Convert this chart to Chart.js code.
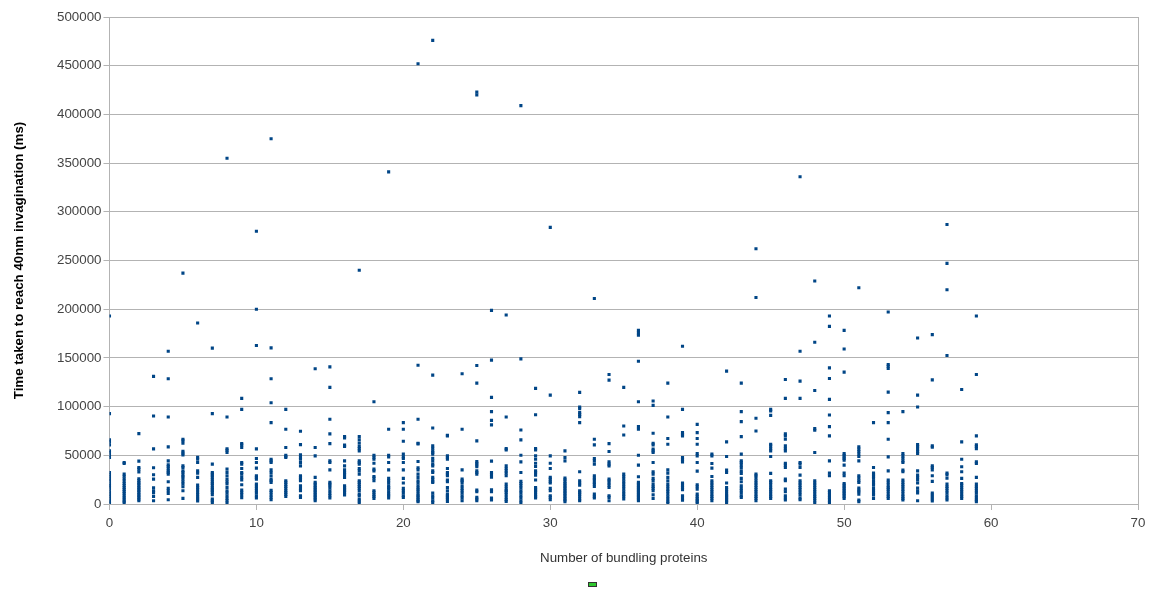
<!DOCTYPE html>
<html>
<head>
<meta charset="utf-8">
<script src="https://cdn.jsdelivr.net/npm/chart.js@4.4.1/dist/chart.umd.min.js"></script>
<style>
  html, body { margin: 0; padding: 0; background: #fff; }
  #wrap { position: relative; width: 1155px; height: 590px; }
  #legendKey {
    position: absolute; left: 588px; top: 582px; width: 7px; height: 3px;
    background: #2ec82e; border: 1px solid #333;
  }
</style>
</head>
<body>
<div id="wrap">
  <canvas id="chart" width="1155" height="590"></canvas>
  <div id="legendKey"></div>
</div>
<script>
// x: number of bundling proteins, one row of times (thousands of ms) per count
const counts = [];
for (let c = 0; c < 60; c++) counts.push(c);

const timesK = [
  [193, 92.8, 65.8, 63.8, 60.7, 54.6, 52.9, 50.1, 47.7, 32.4, 30, 28, 25.5, 23.9, 21, 19, 17.7, 15.3, 12.6, 10.2, 7.8, 5.1, 2.7, 1.2],
  [42.6, 41.6, 30.7, 28.5, 26, 23.5, 21, 19, 17, 15, 13, 11, 9, 7, 5, 3, 1.5],
  [72.3, 44, 37.5, 35.8, 33, 26, 24, 22, 20.5, 18.8, 17, 15.3, 13.6, 12, 10, 8.5, 6.8, 5, 3.4],
  [131, 90.4, 56.6, 37.2, 30, 25.6, 16.7, 13.6, 11.6, 7.8, 3.4],
  [156.9, 128.6, 89.3, 58.7, 44.3, 40.2, 38.5, 36.1, 34, 32.4, 30.7, 22.8, 16, 13.6, 10.9, 4.4],
  [237, 66.5, 65, 62.4, 54.2, 52.2, 50.5, 39.2, 37.5, 34, 32.4, 29.7, 28, 25.6, 22.8, 20.5, 17.7, 13.6, 5.8],
  [185.8, 48, 46, 42.6, 34, 31.7, 27.3, 19.4, 17, 14.7, 12, 9.5, 7.2, 5.1, 3.1],
  [160, 92.8, 40.9, 32.4, 30.7, 29, 26.9, 24.9, 22.8, 21.1, 19.4, 17, 15.3, 13.6, 12, 9.5, 5.1, 3.4, 1.7],
  [355, 89.3, 56.6, 55.2, 52.9, 35.8, 32.4, 29, 25.6, 22.8, 20.5, 17, 13.6, 11.3, 8.5, 5.8, 3.4, 1],
  [108.4, 97.2, 62, 60.7, 58, 42.6, 40.9, 36.5, 32.4, 30.7, 27.3, 24.6, 19.8, 14.3, 12, 9.5, 6.5],
  [280, 200, 162.7, 56.6, 46.7, 42.6, 36.8, 29, 27.3, 25.6, 20.5, 18.4, 16, 13.6, 11.3, 8.5, 6.1],
  [375, 160.3, 128.6, 104, 83.5, 46, 44.3, 42.6, 35.1, 32.4, 29, 25.6, 23.9, 22.2, 14, 12, 9.2, 6.8, 4.4],
  [97.2, 76.7, 58, 50.1, 48.8, 47.7, 23.9, 22.2, 20.1, 18, 16, 13.6, 12, 9.9, 7.8],
  [74.7, 61, 50.5, 47.7, 46, 42.6, 39.2, 29, 27.3, 25.6, 23.9, 18.8, 16, 13.6, 8.5, 6.8],
  [138.8, 58, 49.4, 27.3, 22.2, 20.5, 18.8, 17, 15.3, 13.6, 12, 10.2, 8.5, 6.8, 5.1, 3.4],
  [140.8, 119.7, 87, 72, 62, 44.3, 42.6, 35.1, 22.2, 20.5, 18.8, 16.4, 13.6, 10.9, 8.5, 6.1],
  [69.2, 67.9, 60.4, 59, 44.3, 39.2, 35.1, 32.4, 30, 27.3, 18.8, 17, 15.3, 13.6, 12, 9.2],
  [240, 69.2, 65.8, 62.4, 59, 56.9, 54.6, 44.3, 42.6, 40.9, 36.5, 34, 30.7, 23.9, 22.2, 20.1, 18, 16, 13.6, 10.2, 8.5, 5.1, 3.1, 1],
  [105, 50.1, 48, 46, 41.9, 35.8, 34, 28.3, 26.6, 23.9, 13.6, 12, 9.5, 7.8, 5.8],
  [341, 76.7, 50.1, 48.4, 42.6, 35.1, 26.3, 23.9, 21.5, 18.8, 17, 15.3, 12.6, 10.2, 8.5, 6.1],
  [83.5, 76.7, 64.4, 51.2, 48.4, 46.7, 42.6, 35.1, 26.3, 21.5, 16, 13.6, 11.3, 8.5, 6.8],
  [452, 142.5, 87, 62.4, 61.7, 43.6, 37.2, 35.1, 30.7, 27.3, 23.9, 21.5, 18.8, 16.4, 14.7, 12.6, 10.2, 8.5, 6.8, 5.1, 3.4, 2.4],
  [476, 132.3, 78.1, 59.7, 57.3, 54.6, 52.9, 51.2, 47, 44.3, 40.9, 39.2, 34, 32.4, 27.3, 25.6, 23.2, 22.2, 11.3, 8.5, 6.1, 3.4, 1.7],
  [70.6, 69.9, 49.4, 47.7, 46, 36.5, 32.4, 30.7, 29, 24.6, 22.8, 17, 13.6, 10.2, 8.5, 6.8, 5.1, 2.7],
  [133.7, 76.7, 35.1, 25.6, 23.9, 22.2, 18.8, 16, 13.6, 11.3, 8.5, 6.1, 3.4],
  [423, 420, 142.2, 124.1, 64.8, 43.6, 41.9, 40.2, 38.2, 34, 32.4, 30.7, 14.3, 12.6, 6.8, 5.1, 3.4],
  [198.8, 147.7, 109.5, 94.8, 85.9, 81.2, 44, 32.4, 30, 27.6, 14.7, 12.6, 6.1, 4.1],
  [194, 89.3, 56.9, 55.6, 39.2, 36.5, 34, 31.7, 29, 20.5, 18, 15.3, 13.6, 12, 9.5, 6.8, 4.4, 2.7],
  [409, 149, 76, 65.8, 50.1, 43.3, 32.4, 23.2, 21.1, 18.8, 16.4, 13.6, 11.3, 8.5, 6.1, 3.4, 1],
  [118.7, 91.7, 56.9, 55.6, 49.4, 46, 41.9, 38.5, 34, 32.4, 29.7, 24.6, 17, 15.3, 13.6, 12, 9.5, 7.8, 6.1],
  [284, 111.8, 49.4, 41.9, 36.5, 27.3, 25.6, 23.2, 21.5, 16, 13.6, 8.5, 6.8, 4.4],
  [54.6, 47.7, 44.3, 26.6, 24.9, 22.8, 21.1, 19.4, 17.7, 16, 14.3, 12.6, 10.9, 9.2, 7.5, 5.8, 4.1, 2.4],
  [114.6, 99.6, 97.9, 93.8, 92, 89.7, 83.5, 33.1, 23.9, 21.5, 19.4, 13.6, 12, 10.2, 7.8, 5.1, 3.4],
  [211, 66.5, 60.7, 46.7, 44.3, 40.9, 29, 26.6, 24.9, 22.2, 20.5, 18, 10.2, 7.8, 6.1],
  [133, 127.2, 62, 53.9, 43.3, 40.9, 39.2, 25.6, 23.9, 21.5, 19.4, 17, 8.5, 6.8, 3.4],
  [119.7, 80.1, 70.9, 30.7, 28.3, 25.6, 22.8, 20.5, 18, 15.3, 12.6, 10.2, 7.8, 5.1],
  [178.3, 175.6, 173.2, 146.6, 105, 79.5, 76.7, 50.1, 39.9, 28, 22.2, 20.5, 18.8, 17, 15.3, 13.6, 12, 10.2, 8.5, 6.8, 5.1, 3.4],
  [105.7, 101.3, 72.6, 62.4, 60.7, 56.3, 54.6, 52.9, 42.6, 33.1, 30.7, 26.3, 23.9, 20.5, 18, 16, 13.6, 9.5, 5.8],
  [124.1, 89.3, 67.2, 61.4, 35.1, 31.7, 27.3, 23.9, 20.5, 18, 15.3, 13, 10.2, 7.5, 5.1, 2.7, 1],
  [162, 97.2, 73.3, 71.6, 69.9, 47.7, 45.4, 43.3, 21.5, 19.4, 17, 14.7, 8.5, 6.1, 3.8],
  [81.8, 73.3, 67.2, 61.4, 51.8, 49.4, 42.6, 33.8, 19.8, 17.7, 15.3, 10.2, 7.8, 5.8, 4.1, 2.4, 1],
  [51.2, 49.4, 41.6, 36.8, 28.3, 23.9, 21.5, 19.4, 17, 14.7, 12.6, 10.2, 7.8, 5.8, 3.4],
  [136.4, 63.8, 48.8, 34.8, 32.4, 21.5, 17, 14.7, 12.6, 10.2, 8.5, 6.8, 5.1, 3.4, 1.7],
  [124.1, 94.8, 84.6, 69.2, 51.2, 44.3, 42.6, 40.2, 37.5, 34, 31.4, 26.3, 22.8, 18.8, 16, 13.6, 11.3, 8.5, 6.8],
  [262, 212, 88, 75, 30.7, 29, 26.6, 23.9, 21.5, 19.4, 17, 14.7, 12.6, 10.2, 7.8, 5.8, 3.4],
  [97.2, 95.5, 91, 61.4, 59.7, 56.9, 54.6, 48.8, 31.4, 23.9, 22.2, 19.8, 17, 14.7, 12.6, 10.2, 7.8, 5.8],
  [127.9, 108.4, 72, 69.9, 66.5, 59.7, 56.9, 54.6, 41.9, 39.9, 37.5, 25.6, 23.9, 15.3, 12.6, 8.5, 6.1, 4.1],
  [336, 156.9, 126.2, 108.4, 42.6, 40.9, 37.5, 29.7, 23.9, 21.5, 19.4, 17, 14.7, 12, 9.2, 6.1, 4.4],
  [229, 166.1, 116.6, 77.4, 75.7, 52.9, 23.9, 21.5, 19.4, 17, 14.7, 12.6, 10.2, 7.8, 5.8, 3.4, 1],
  [193, 182.4, 139.8, 128.9, 107.4, 91.4, 79.5, 69.9, 44.3, 31.7, 29, 13.6, 12, 9.2, 6.8, 4.1, 1.7],
  [178.3, 159.2, 135.4, 51.8, 50.1, 48.4, 46.7, 45, 39.9, 31.7, 29, 21.1, 19.4, 17.7, 16, 14.3, 12.6, 10.9, 9.2, 7.5, 5.8],
  [222, 58.7, 56.3, 53.9, 51.2, 48.8, 44.3, 29, 26.6, 23.9, 22.2, 16.4, 14.3, 12.6, 10.2, 4.1, 2.4],
  [83.5, 37.5, 31.7, 30, 28.3, 26.6, 23.9, 21.5, 19.4, 16, 13.6, 11.3, 9.2, 5.8],
  [197.1, 143.2, 141.5, 139.1, 114.9, 93.8, 83.5, 66.5, 48.4, 34, 24.6, 22.2, 19.4, 17, 15.3, 13, 10.2, 7.8, 5.8],
  [94.8, 51.8, 49.4, 47, 44.3, 42.6, 34.8, 33.1, 24.6, 22.2, 19.8, 17.7, 15.3, 13, 10.2, 7.8, 5.8, 4.1],
  [170.5, 111.8, 99.6, 61, 59, 56.3, 53.9, 51.8, 34, 29.7, 27.3, 24.6, 21.5, 16.4, 13.6, 11.3, 3.4],
  [173.9, 127.5, 59.7, 58.3, 39.2, 37.5, 35.1, 29, 23.2, 11.3, 9.2, 7.2, 5.1, 3.1],
  [287, 247, 220, 152.4, 31.7, 30, 26.6, 20.5, 18, 16, 13.6, 11.3, 8.5, 6.1, 4.1],
  [117.6, 63.8, 46, 38.2, 33.1, 26.3, 21.1, 19.4, 17, 14.7, 12.6, 10.2, 7.8, 5.8],
  [193, 133, 69.9, 60.7, 59, 56.9, 43.3, 41.6, 27.3, 20.5, 18, 16, 13.6, 11.3, 8.5, 6.1, 4.1, 2.4]
];

const xTitle = 'Number of bundling proteins';
const yTitle = 'Time taken to reach 40nm invagination (ms)';

const points = [];
counts.forEach((c, i) => {
  timesK[i].forEach(t => points.push({ x: c, y: t * 1000 }));
});

const gridGray = '#b3b3b3';
const fontFamily = '"Liberation Sans", Arial, sans-serif';

new Chart(document.getElementById('chart').getContext('2d'), {
  type: 'scatter',
  data: {
    datasets: [{
      label: 'Time',
      data: points,
      pointStyle: 'rect',
      pointRadius: 2.2,
      backgroundColor: '#004586',
      borderWidth: 0,
    }],
  },
  options: {
    responsive: false,
    animation: false,
    devicePixelRatio: 1,
    layout: { padding: { left: 11, right: 17, top: 17, bottom: 24 } },
    plugins: {
      legend: { display: false },
      tooltip: { enabled: false },
    },
    scales: {
      x: {
        type: 'linear',
        min: 0,
        max: 70,
        ticks: {
          stepSize: 10,
          color: '#444',
          padding: 5,
          font: { family: fontFamily, size: 13.33 },
          callback: v => String(v),
        },
        grid: {
          color: ctx => (ctx.tick && ctx.tick.value === 70 ? gridGray : 'rgba(0,0,0,0)'),
          tickColor: gridGray,
          tickLength: 6,
        },
        border: { color: gridGray },
        title: {
          display: true,
          text: xTitle,
          color: '#333',
          font: { family: fontFamily, size: 13.33 },
          padding: { top: 14, bottom: 0 },
        },
      },
      y: {
        min: 0,
        max: 500000,
        ticks: {
          stepSize: 50000,
          color: '#444',
          padding: 2,
          font: { family: fontFamily, size: 13.33 },
          callback: v => String(v),
        },
        grid: { color: gridGray, tickColor: gridGray, tickLength: 6 },
        border: { color: gridGray },
        title: {
          display: true,
          text: yTitle,
          color: '#000',
          font: { family: fontFamily, size: 13.33, weight: 'bold' },
          padding: { top: 0, bottom: 28 },
        },
      },
    },
  },
});
</script>
</body>
</html>
